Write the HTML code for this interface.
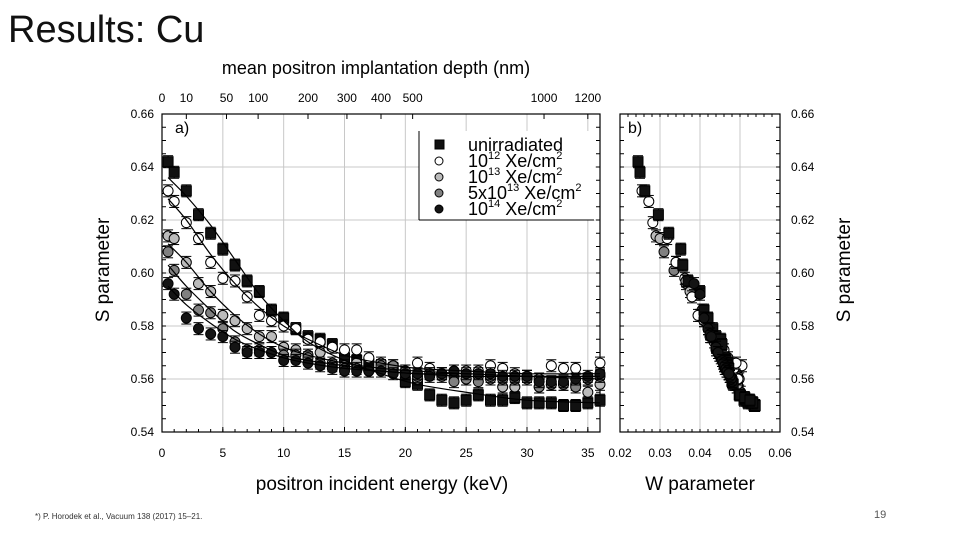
<!DOCTYPE html>
<html><head><meta charset="utf-8">
<style>
body{margin:0;background:#fff;}
svg{display:block;font-family:"Liberation Sans",sans-serif;}
</style></head>
<body>
<svg id="c" width="960" height="540" viewBox="0 0 960 540">
<text x="8" y="42" font-size="38" fill="#111">Results: Cu</text>
<text x="376" y="74" font-size="18" text-anchor="middle">mean positron implantation depth (nm)</text>
<text x="382" y="490" font-size="19" text-anchor="middle">positron incident energy (keV)</text>
<text x="700" y="490" font-size="19" text-anchor="middle">W parameter</text>
<text transform="translate(109,270) rotate(-90)" font-size="19" text-anchor="middle">S parameter</text>
<text transform="translate(850,270) rotate(-90)" font-size="19" text-anchor="middle">S parameter</text>
<text x="35" y="519" font-size="8" fill="#333">*) P. Horodek et al., Vacuum 138 (2017) 15–21.</text>
<text x="874" y="518" font-size="11" fill="#555">19</text>
<g id="pa"></g><g id="pb"></g>
</svg>
<script>
const energies=[0.5,1,2,3,4,5,6,7,8,9,10,11,12,13,14,15,16,17,18,19,20,21,22,23,24,25,26,27,28,29,30,31,32,33,34,35,36];
const sUnirr=[0.642,0.638,0.631,0.622,0.615,0.609,0.603,0.597,0.593,0.586,0.583,0.579,0.576,0.575,0.573,0.568,0.567,0.566,0.565,0.564,0.559,0.558,0.554,0.552,0.551,0.552,0.554,0.552,0.552,0.553,0.551,0.551,0.551,0.550,0.550,0.551,0.552];
const s1e12=[0.631,0.627,0.619,0.613,0.604,0.598,0.597,0.591,0.584,0.582,0.580,0.579,0.575,0.574,0.572,0.571,0.571,0.568,0.566,0.565,0.563,0.566,0.564,0.562,0.563,0.563,0.563,0.565,0.564,0.562,0.561,0.560,0.565,0.564,0.564,0.560,0.566];
const s1e13=[0.614,0.613,0.604,0.596,0.593,0.584,0.582,0.579,0.576,0.576,0.572,0.571,0.569,0.570,0.566,0.565,0.566,0.563,0.565,0.564,0.562,0.560,0.562,0.562,0.561,0.560,0.561,0.560,0.557,0.557,0.560,0.557,0.558,0.558,0.558,0.555,0.558];
const s5e13=[0.608,0.601,0.592,0.586,0.585,0.579,0.574,0.571,0.571,0.570,0.569,0.569,0.568,0.566,0.565,0.564,0.564,0.563,0.565,0.565,0.563,0.561,0.562,0.561,0.559,0.560,0.559,0.561,0.560,0.560,0.561,0.557,0.558,0.558,0.557,0.560,0.561];
const s1e14=[0.596,0.592,0.583,0.579,0.577,0.576,0.572,0.570,0.570,0.570,0.567,0.567,0.566,0.565,0.564,0.563,0.563,0.563,0.563,0.562,0.562,0.562,0.561,0.562,0.563,0.562,0.562,0.562,0.561,0.561,0.561,0.559,0.559,0.559,0.560,0.561,0.562];
const wUnirr=[.0245,.0250,.0262,.0296,.0322,.0352,.0357,.0370,.0400,.0410,.0420,.0432,.0440,.0452,.0455,.0462,.0465,.0470,.0468,.0472,.0480,.0483,.0498,.0510,.0520,.0515,.0500,.0518,.0522,.0512,.0528,.0530,.0532,.0535,.0538,.0532,.0525];
const w1e12=[.0255,.0272,.0282,.0318,.0340,.0362,.0365,.0380,.0395,.0410,.0420,.0425,.0440,.0445,.0455,.0458,.0460,.0470,.0475,.0480,.0488,.0475,.0482,.0490,.0486,.0488,.0490,.0482,.0485,.0492,.0495,.0498,.0505,.0480,.0485,.0495,.0490];
const w1e13=[.0290,.0300,.0340,.0365,.0375,.0400,.0410,.0420,.0425,.0428,.0440,.0445,.0450,.0448,.0460,.0465,.0462,.0470,.0465,.0468,.0475,.0480,.0476,.0478,.0480,.0485,.0482,.0485,.0495,.0495,.0486,.0495,.0492,.0492,.0493,.0502,.0494];
const w5e13=[.0310,.0335,.0388,.0405,.0408,.0420,.0435,.0440,.0442,.0445,.0448,.0450,.0452,.0458,.0460,.0462,.0464,.0466,.0460,.0462,.0468,.0474,.0472,.0475,.0482,.0480,.0482,.0476,.0480,.0480,.0478,.0492,.0488,.0488,.0492,.0480,.0478];
const w1e14=[.0385,.0400,.0410,.0420,.0425,.0428,.0440,.0445,.0445,.0445,.0455,.0455,.0458,.0462,.0465,.0468,.0468,.0468,.0468,.0472,.0472,.0472,.0475,.0472,.0468,.0472,.0472,.0472,.0475,.0475,.0475,.0480,.0480,.0480,.0478,.0475,.0472];
const fitE=[0.5,2,4,6,8,10,12,15,18,21,25,30,36];
const fitUnirr=[0.636,0.629,0.618,0.605,0.592,0.582,0.574,0.567,0.562,0.558,0.555,0.552,0.551];
const fit1e12=[0.628,0.620,0.607,0.596,0.587,0.580,0.575,0.569,0.566,0.564,0.563,0.562,0.562];
const fit1e13=[0.611,0.604,0.593,0.584,0.577,0.572,0.569,0.566,0.564,0.563,0.562,0.561,0.560];
const fit5e13=[0.603,0.595,0.586,0.578,0.573,0.569,0.567,0.565,0.563,0.562,0.561,0.561,0.561];
const fit1e14=[0.595,0.588,0.581,0.575,0.571,0.568,0.566,0.564,0.563,0.562,0.562,0.561,0.561];
const seriesNames=["unirradiated","1e12","1e13","5e13","1e14"];
const yTicks=[0.54,0.56,0.58,0.60,0.62,0.64,0.66];
const xTicksA=[0,5,10,15,20,25,30,35];
const xTicksB=[0.02,0.03,0.04,0.05,0.06];
const depthTicks=["0","10","50","100","200","300","400","500","1000","1200"];
const depthTickE=[0,2,5.3,7.9,12,15.2,18,20.6,31.4,35];

const NS="http://www.w3.org/2000/svg";
const A={x0:162,x1:600,y0:432,y1:114,emin:0,emax:36};
const B={x0:620,x1:780};
const sx=e=>A.x0+(e-A.emin)/(A.emax-A.emin)*(A.x1-A.x0);
const sy=s=>A.y0+(s-0.54)/(0.66-0.54)*(A.y1-A.y0);
const wx=w=>B.x0+(w-0.02)/(0.06-0.02)*(B.x1-B.x0);
function mk(p,tag,at){const e=document.createElementNS(NS,tag);for(const k in at)e.setAttribute(k,at[k]);p.appendChild(e);return e;}
const pa=document.getElementById('pa'),pb=document.getElementById('pb');
const styles=[{sh:'sq',f:'#111'},{sh:'c',f:'#fff'},{sh:'c',f:'#bbb'},{sh:'c',f:'#808080'},{sh:'c',f:'#141414'}];
const S=[sUnirr,s1e12,s1e13,s5e13,s1e14],W=[wUnirr,w1e12,w1e13,w5e13,w1e14],F=[fitUnirr,fit1e12,fit1e13,fit5e13,fit1e14];
function frame(g,x0,x1,vals,fx,ticksLeft){
  vals.forEach(v=>{const l=mk(g,'line',{x1:fx(v),x2:fx(v),y1:A.y1,y2:A.y0,stroke:'#c8c8c8','stroke-width':1});
  });
  yTicks.forEach(v=>{const l=mk(g,'line',{x1:x0,x2:x1,y1:sy(v),y2:sy(v),stroke:'#c8c8c8','stroke-width':1});
  
  const t=mk(g,'text',{x:ticksLeft?x0-8:x1+11,y:sy(v)+4,'font-size':12,'text-anchor':ticksLeft?'end':'start'});t.textContent=v.toFixed(2);
  });
  for(let v=0.54;v<=0.6601;v+=0.005){mk(g,'line',{x1:x0,x2:x0+4,y1:sy(v),y2:sy(v),stroke:'#000'});mk(g,'line',{x1:x1,x2:x1-4,y1:sy(v),y2:sy(v),stroke:'#000'});}
  const r=mk(g,'rect',{x:x0,y:A.y1,width:x1-x0,height:A.y0-A.y1,fill:'none',stroke:'#000','stroke-width':1.2});
  
}
function marker(g,x,y,st,name){
  mk(g,'line',{x1:x,x2:x,y1:y-6,y2:y+6,stroke:'#000'});
  mk(g,'line',{x1:x-5,x2:x+5,y1:y-6,y2:y-6,stroke:'#000'});
  mk(g,'line',{x1:x-5,x2:x+5,y1:y+6,y2:y+6,stroke:'#000'});
  let m;
  if(st.sh==='sq')m=mk(g,'rect',{x:x-5,y:y-5,width:10,height:10,fill:st.f,stroke:'#000'});
  else m=mk(g,'circle',{cx:x,cy:y,r:5,fill:st.f,stroke:'#000'});
  
  
}
frame(pa,A.x0,A.x1,xTicksA,sx,true);
xTicksA.forEach(v=>{const t=mk(pa,'text',{x:sx(v),y:457,'font-size':12,'text-anchor':'middle'});t.textContent=v;

mk(pa,'line',{x1:sx(v),x2:sx(v),y1:A.y0,y2:A.y0-5,stroke:'#000'});});
for(let e=1;e<36;e++)mk(pa,'line',{x1:sx(e),x2:sx(e),y1:A.y0,y2:A.y0-3,stroke:'#000'});
depthTicks.forEach((lab,i)=>{const x=sx(depthTickE[i]);const t=mk(pa,'text',{x:x,y:102,'font-size':12,'text-anchor':'middle'});t.textContent=lab;

mk(pa,'line',{x1:x,x2:x,y1:A.y1,y2:A.y1+5,stroke:'#000'});});
[[175,133,'a)'],[628,133,'b)']].forEach(a=>{const t=mk(pa,'text',{x:a[0],y:a[1],'font-size':16});t.textContent=a[2];
});
S.forEach((arr,k)=>{arr.forEach((s,i)=>marker(pa,sx(energies[i]),sy(s),styles[k],'point-'+seriesNames[k]));});
F.forEach((arr,k)=>{let d='';const n=fitE.length;const P=fitE.map((e,i)=>[sx(e),sy(arr[i])]);
 d='M'+P[0][0]+','+P[0][1];
 for(let i=0;i<n-1;i++){const p0=P[Math.max(i-1,0)],p1=P[i],p2=P[i+1],p3=P[Math.min(i+2,n-1)];
  d+=' C'+(p1[0]+(p2[0]-p0[0])/6)+','+(p1[1]+(p2[1]-p0[1])/6)+' '+(p2[0]-(p3[0]-p1[0])/6)+','+(p2[1]-(p3[1]-p1[1])/6)+' '+p2[0]+','+p2[1];}
 const p=mk(pa,'path',{d:d,fill:'none',stroke:'#000','stroke-width':1.2});
 });
const lg=mk(pa,'g',{});
mk(lg,'rect',{x:419,y:131,width:176,height:89,fill:'#fff'});
mk(lg,'line',{x1:419,x2:419,y1:131,y2:220,stroke:'#000'});mk(lg,'line',{x1:419,x2:594,y1:220,y2:220,stroke:'#000'});
const legLab=[['unirradiated','',''],['10','12',' Xe/cm'],['10','13',' Xe/cm'],['5x10','13',' Xe/cm'],['10','14',' Xe/cm']];
legLab.forEach((L,k)=>{const y=145+k*16;const st=styles[k];
 let m=st.sh==='sq'?mk(lg,'rect',{x:435,y:y-5,width:9,height:9,fill:st.f,stroke:'#000'}):mk(lg,'circle',{cx:439,cy:y,r:4,fill:st.f,stroke:'#000'});
 
 const t=mk(lg,'text',{x:468,y:y+6,'font-size':18});
 
 if(k===0){t.textContent=L[0];}else{t.innerHTML=L[0]+'<tspan dy="-8" font-size="11">'+L[1]+'</tspan><tspan dy="8">'+L[2]+'</tspan><tspan dy="-8" font-size="11">2</tspan>';}
});
frame(pb,B.x0,B.x1,[0.03,0.04,0.05],wx,false);
xTicksB.forEach(v=>{const t=mk(pb,'text',{x:wx(v),y:457,'font-size':12,'text-anchor':'middle'});t.textContent=v.toFixed(2);
});
for(let v=0.02;v<0.06;v+=0.002){mk(pb,'line',{x1:wx(v),x2:wx(v),y1:A.y0,y2:A.y0-3,stroke:'#000'});mk(pb,'line',{x1:wx(v),x2:wx(v),y1:A.y1,y2:A.y1+3,stroke:'#000'});}
[3,2,1,0,4].forEach(k=>{S[k].forEach((s,i)=>marker(pb,wx(W[k][i]),sy(s),styles[k],'w-point-'+seriesNames[k]));});
</script>
</body></html>
